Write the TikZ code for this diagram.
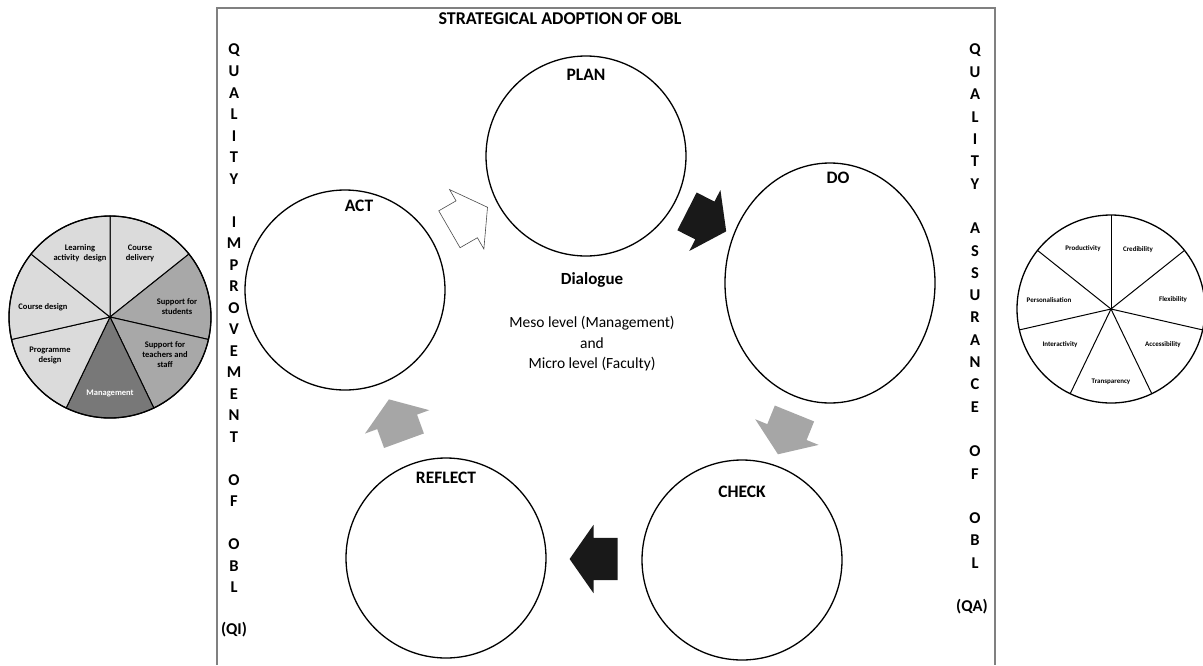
\documentclass[tikz,border=0pt]{standalone}
\usepackage{fontspec}
\setmainfont{Carlito}
\usetikzlibrary{positioning,shapes.arrows,shapes.geometric}
\definecolor{lightgrey}{gray}{0.86}
\definecolor{midgrey}{gray}{0.66}
\definecolor{darkgrey}{gray}{0.47}
\definecolor{framegrey}{gray}{0.5}
\definecolor{arrowgrey}{gray}{0.65}
\tikzset{
  stage/.style={circle, draw, line width=1.3pt, minimum size=200pt, inner sep=0pt},
  stagelabel/.style={font=\fontsize{17.5}{20}\selectfont\bfseries, inner sep=0pt},
  flow/.style={single arrow, inner xsep=0pt, inner ysep=21pt, minimum height=44pt,
    single arrow head extend=13pt, single arrow tip angle=110},
  colletter/.style={font=\fontsize{16.5}{18}\selectfont\bfseries, inner sep=0pt},
  slice/.style={font=\fontsize{8.5}{10}\selectfont\bfseries, align=center, inner sep=0pt},
  tinyslice/.style={font=\fontsize{7}{8}\selectfont\bfseries, inner sep=0pt}
}
\begin{document}
\begin{tikzpicture}[x=1pt, y=1pt]
\useasboundingbox (0,0) rectangle (1203,-665);
\draw[framegrey, line width=1.2pt](217,-665)--(217,-8)--(995,-8)--(995,-665);
\node[font=\fontsize{18}{20}\selectfont\bfseries] (title) at (560,-19){STRATEGICAL ADOPTION OF OBL};
% the cycle
\node[stage] (plan) at (586,-156){};
\node[stage, ellipse, minimum width=210pt, minimum height=240pt] (do) at (830,-283){};
\node[stage] (check) at (742,-560){};
\node[stage] (reflect) at (446,-558){};
\node[stage] (act) at (345,-290){};
\node[stagelabel, below=14pt of plan.north] (plantext){PLAN};
\node[stagelabel, below=9pt of do.north, xshift=8pt] (dotext){DO};
\node[stagelabel, below=26pt of check.north] (checktext){CHECK};
\node[stagelabel, below=14pt of reflect.north] (reflecttext){REFLECT};
\node[stagelabel, below=10pt of act.north, xshift=14pt] (acttext){ACT};
\node[flow, draw=black!70, fill=white, line width=.6pt, rotate=30] (actplan) at (462,-222){};
\node[flow, fill=black!90, rotate=-27] (plando) at (700,-218){};
\node[flow, fill=arrowgrey, rotate=-112] (docheck) at (789,-427){};
\node[flow, fill=black!90, rotate=180, minimum height=48pt] (checkreflect) at (601,-559){};
\node[flow, fill=arrowgrey, rotate=110] (reflectact) at (399,-427){};
\node[font=\fontsize{17}{20}\selectfont\bfseries] (dialogue) at (592,-280){Dialogue};
\node[font=\fontsize{15.5}{20.5}\selectfont, align=center, below=22pt of dialogue] (levels)
  {Meso level (Management)\\and\\Micro level (Faculty)};
% side columns
\foreach \word/\start in {{Q,U,A,L,I,T,Y}/0, {I,M,P,R,O,V,E,M,E,N,T}/8, {O,F}/20, {O,B,L}/23}
{
    \foreach \ch [count=\i from \start] in \word
        \node[colletter] (qi\i) at (234,{-50-21.5*\i}){\ch};
}
\node[colletter] (qi) at (234,-630){(QI)};
\foreach \word/\start in {{Q,U,A,L,I,T,Y}/0, {A,S,S,U,R,A,N,C,E}/8, {O,F}/18, {O,B,L}/21}
{
    \foreach \ch [count=\i from \start] in \word
        \node[colletter] (qa\i) at (975,{-50-22.3*\i}){\ch};
}
\node[colletter] (qa) at (972,-607){(QA)};
% left pie
\coordinate (lp) at (110,-317);
\foreach \k/\col in {0/lightgrey, 1/midgrey, 2/midgrey, 3/darkgrey, 4/lightgrey, 5/lightgrey, 6/lightgrey}
{
    \filldraw[fill=\col, line width=1pt](lp)--++({90-\k*360/7}:101)
        arc[start angle={90-\k*360/7}, delta angle=-360/7, radius=101]--cycle;
}
\draw[line width=1.3pt](lp) circle[radius=101];
\node[slice] (lad) at (80,-253){Learning\\activity\enspace design};
\node[slice] (cdel) at (140,-253){Course\\delivery};
\node[slice] (cdes) at (43,-307){Course design};
\node[slice] (sfs) at (177,-307){Support for\\students};
\node[slice] (pd) at (50,-355){Programme\\design};
\node[slice] (sft) at (165,-355){Support for\\teachers and\\staff};
\node[slice, text=white] (mgt) at (110,-393){Management};
% right pie
\coordinate (rp) at (1111,-309);
\foreach \k in {0,...,6}
{
    \draw[line width=1pt](rp)--++({90-\k*360/7}:94);
}
\draw[line width=1.3pt](rp) circle[radius=94];
\node[tinyslice] (prod) at (1083,-249){Productivity};
\node[tinyslice] (cred) at (1138,-250){Credibility};
\node[tinyslice] (pers) at (1049,-300){Personalisation};
\node[tinyslice] (flex) at (1173,-300){Flexibility};
\node[tinyslice] (inter) at (1060,-345){Interactivity};
\node[tinyslice] (acc) at (1163,-345){Accessibility};
\node[tinyslice] (trans) at (1111,-382){Transparency};
\end{tikzpicture}
\end{document}
